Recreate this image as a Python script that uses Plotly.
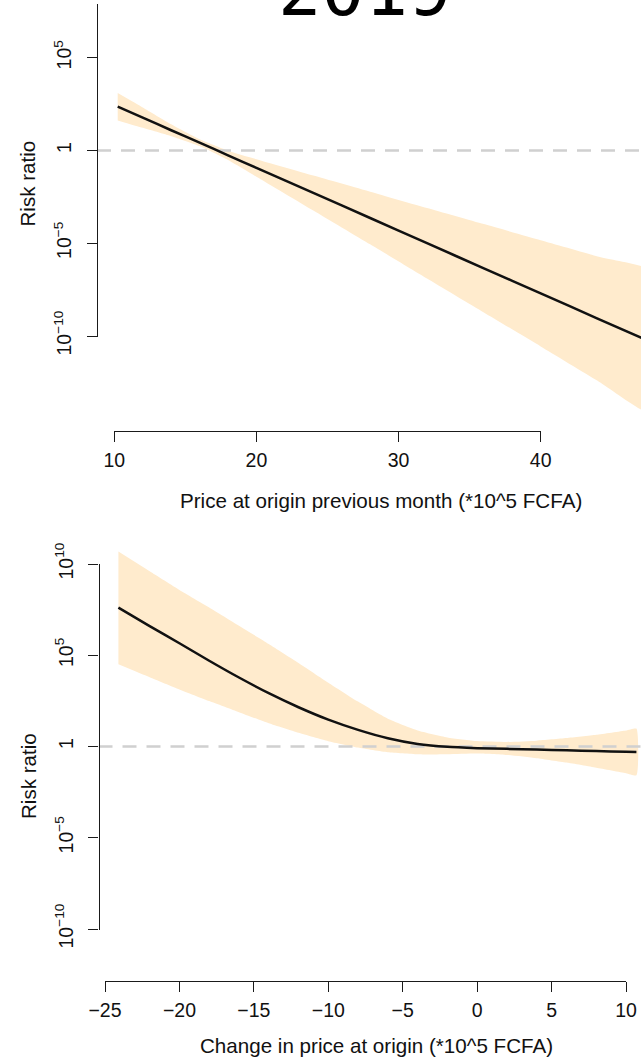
import plotly.graph_objects as go

# ---------------- data (log10 of risk ratio) ----------------
price_x = [10.24, 12, 14, 16, 18, 20, 24, 28, 32, 36, 40, 44, 48]
price_fit_log = [2.36, 1.77, 1.09, 0.42, -0.26, -0.94, -2.29, -3.64, -5.00, -6.35, -7.70, -9.06, -10.41]
price_lo_log = [1.62, 1.22, 0.77, 0.24, -0.51, -1.41, -3.23, -5.06, -6.90, -8.73, -10.56, -12.41, -14.24]
price_hi_log = [3.10, 2.32, 1.41, 0.60, -0.01, -0.47, -1.35, -2.22, -3.10, -3.97, -4.84, -5.71, -6.58]

change_x = [-24.1, -22, -20, -18, -16, -14, -12, -10, -8, -6, -4, -2, 0, 2, 4, 6, 8, 10, 10.7]
change_fit_log = [7.61, 6.60, 5.66, 4.70, 3.78, 2.92, 2.15, 1.47, 0.91, 0.45, 0.14, -0.02, -0.09, -0.13, -0.17, -0.21, -0.25, -0.29, -0.30]
change_hi_log = [10.68, 9.60, 8.58, 7.62, 6.62, 5.62, 4.58, 3.50, 2.46, 1.52, 0.88, 0.50, 0.30, 0.25, 0.32, 0.46, 0.64, 0.88, 0.98]
change_lo_log = [4.51, 3.80, 3.13, 2.49, 1.88, 1.27, 0.75, 0.29, -0.06, -0.32, -0.43, -0.42, -0.38, -0.46, -0.64, -0.88, -1.16, -1.46, -1.58]

price_ticks = [10, 20, 30, 40]
price_ticktext = ["10", "20", "30", "40"]
change_ticks = [-25, -20, -15, -10, -5, 0, 5, 10]
change_ticktext = ["\u221225", "\u221220", "\u221215", "\u221210", "\u22125", "0", "5", "10"]
top_yticks = [1e5, 1, 1e-5, 1e-10]
top_yticktext = ["10<sup>5</sup>", "1", "10<sup>\u22125</sup>", "10<sup>\u221210</sup>"]
bot_yticks = [1e10, 1e5, 1, 1e-5, 1e-10]
bot_yticktext = ["10<sup>10</sup>", "10<sup>5</sup>", "1", "10<sup>\u22125</sup>", "10<sup>\u221210</sup>"]

title_text = "2019"
top_xlabel = "Price at origin previous month (*10^5 FCFA)"
bot_xlabel = "Change in price at origin (*10^5 FCFA)"
ylabel = "Risk ratio"

# ---------------- geometry (pixels) ----------------
W, H = 641, 1057
FONT = "Liberation Sans, Arial, sans-serif"
BAND = "#FFEBCD"
AX = "#1a1a1a"

def px(x):
    return x / W

def py(y):
    return 1 - y / H

# top panel
t_ax_x = 97.0
t_x10, t_x40 = 114.3, 540.7
t_xaxis_y = 431.0
t_tick_top, t_tick_bot = 57.7, 336.0      # pixel of 10^5 and 10^-10
t_per_dec = (t_tick_bot - t_tick_top) / 15.0
t_y0px = t_tick_bot - 10 * t_per_dec
t_data_top, t_data_bot = 0.0, 425.0
t_yaxis_top, t_yaxis_bot = 4.0, 336.5

s1 = (t_x40 - t_x10) / (price_ticks[-1] - price_ticks[0])
t_xr = [price_ticks[0] - (t_x10 - t_ax_x) / s1, price_ticks[0] + (W - t_x10) / s1]
t_yr = [(t_y0px - t_data_bot) / t_per_dec, (t_y0px - t_data_top) / t_per_dec]
t_yr_disp = [(t_y0px - t_yaxis_bot) / t_per_dec, (t_y0px - t_yaxis_top) / t_per_dec]

# bottom panel
b_ax_x = 98.5
b_xm25, b_x10 = 105.0, 626.0
b_xaxis_y = 981.0
b_tick_top, b_tick_bot = 564.0, 929.0     # pixel of 10^10 and 10^-10
b_per_dec = (b_tick_bot - b_tick_top) / 20.0
b_y0px = b_tick_bot - 10 * b_per_dec
b_data_top, b_data_bot = 540.0, 975.0
b_yaxis_top, b_yaxis_bot = 563.5, 929.5

s2 = (b_x10 - b_xm25) / (change_ticks[-1] - change_ticks[0])
b_xr = [change_ticks[0] - (b_xm25 - b_ax_x) / s2, change_ticks[0] + (W - b_xm25) / s2]
b_yr = [(b_y0px - b_data_bot) / b_per_dec, (b_y0px - b_data_top) / b_per_dec]
b_yr_disp = [(b_y0px - b_yaxis_bot) / b_per_dec, (b_y0px - b_yaxis_top) / b_per_dec]

fig = go.Figure()

def add_panel(xs, fit, lo, hi, xr, xa, ya):
    fig.add_trace(go.Scatter(
        x=list(xs) + list(xs)[::-1],
        y=[10 ** v for v in hi] + [10 ** v for v in lo][::-1],
        fill="toself", fillcolor=BAND, line=dict(width=0, color=BAND, shape="spline", smoothing=0.5),
        mode="lines", hoverinfo="skip", showlegend=False, xaxis=xa, yaxis=ya))
    fig.add_trace(go.Scatter(
        x=[xr[0], xr[1]], y=[1, 1], mode="lines",
        line=dict(color="#D0D0D0", width=2.6, dash="14px,10px"),
        hoverinfo="skip", showlegend=False, xaxis=xa, yaxis=ya))
    fig.add_trace(go.Scatter(
        x=xs, y=[10 ** v for v in fit], mode="lines",
        line=dict(color="#111111", width=2.5, shape="spline", smoothing=0.6),
        showlegend=False, xaxis=xa, yaxis=ya))

add_panel(price_x, price_fit_log, price_lo_log, price_hi_log, t_xr, "x", "y")
add_panel(change_x, change_fit_log, change_lo_log, change_hi_log, b_xr, "x2", "y2")

for xa, ya in [("x3", "y3"), ("x4", "y4")]:
    fig.add_trace(go.Scatter(x=[None], y=[None], xaxis=xa, yaxis=ya, showlegend=False, hoverinfo="skip"))

hidden = dict(showline=False, showticklabels=False, showgrid=False, zeroline=False, ticks="",
              automargin=False)
tickfont = dict(family=FONT, size=19.5, color="#111111")

disp_x = dict(showline=True, linecolor=AX, linewidth=1.4, ticks="outside", ticklen=10,
              tickwidth=1.4, tickcolor=AX, showgrid=False, zeroline=False, automargin=False,
              tickfont=tickfont, anchor="free", tickmode="array", ticklabelstandoff=1)
disp_y = dict(showline=True, linecolor=AX, linewidth=1.4, ticks="outside", ticklen=10,
              tickwidth=1.4, tickcolor=AX, showgrid=False, zeroline=False, automargin=False,
              tickfont=tickfont, anchor="free", type="log", tickangle=-90,
              tickmode="array", ticklabelstandoff=8)

fig.update_layout(
    template="none",
    width=W, height=H, autosize=False,
    margin=dict(l=0, r=0, t=0, b=0, pad=0),
    paper_bgcolor="white", plot_bgcolor="rgba(0,0,0,0)",
    xaxis=dict(domain=[px(t_ax_x), 1], range=t_xr, anchor="y", **hidden),
    yaxis=dict(domain=[py(t_data_bot), py(t_data_top)], range=t_yr, type="log", anchor="x", **hidden),
    xaxis2=dict(domain=[px(b_ax_x), 1], range=b_xr, anchor="y2", **hidden),
    yaxis2=dict(domain=[py(b_data_bot), py(b_data_top)], range=b_yr, type="log", anchor="x2", **hidden),
    xaxis3=dict(domain=[px(t_x10), px(t_x40)], range=[price_ticks[0], price_ticks[-1]],
                position=py(t_xaxis_y), tickvals=price_ticks, ticktext=price_ticktext, **disp_x),
    yaxis3=dict(domain=[py(t_yaxis_bot), py(t_yaxis_top)], range=t_yr_disp,
                position=px(t_ax_x), tickvals=top_yticks, ticktext=top_yticktext, **disp_y),
    xaxis4=dict(domain=[px(b_xm25), px(b_x10)], range=[change_ticks[0], change_ticks[-1]],
                position=py(b_xaxis_y), tickvals=change_ticks, ticktext=change_ticktext, **disp_x),
    yaxis4=dict(domain=[py(b_yaxis_bot), py(b_yaxis_top)], range=b_yr_disp,
                position=px(b_ax_x), tickvals=bot_yticks, ticktext=bot_yticktext, **disp_y),
    showlegend=False,
)

lab = dict(family=FONT, size=20.6, color="#111111")
fig.add_annotation(text=title_text, xref="paper", yref="paper", x=px(364), y=py(-10.5),
                   xanchor="center", yanchor="middle", showarrow=False,
                   font=dict(family="DejaVu Sans Mono", size=72, color="black"))
fig.add_annotation(text=top_xlabel, xref="paper", yref="paper", x=px(381), y=py(500),
                   xanchor="center", yanchor="middle", showarrow=False, font=lab)
fig.add_annotation(text=bot_xlabel, xref="paper", yref="paper", x=px(376), y=py(1045),
                   xanchor="center", yanchor="middle", showarrow=False, font=lab)
fig.add_annotation(text=ylabel, xref="paper", yref="paper", x=px(27), y=py(183.5),
                   xanchor="center", yanchor="middle", showarrow=False, textangle=-90, font=lab)
fig.add_annotation(text=ylabel, xref="paper", yref="paper", x=px(28), y=py(776),
                   xanchor="center", yanchor="middle", showarrow=False, textangle=-90, font=lab)

fig.write_html("out.html", config={"displayModeBar": False},
               post_script="document.body.style.margin='0px';")
